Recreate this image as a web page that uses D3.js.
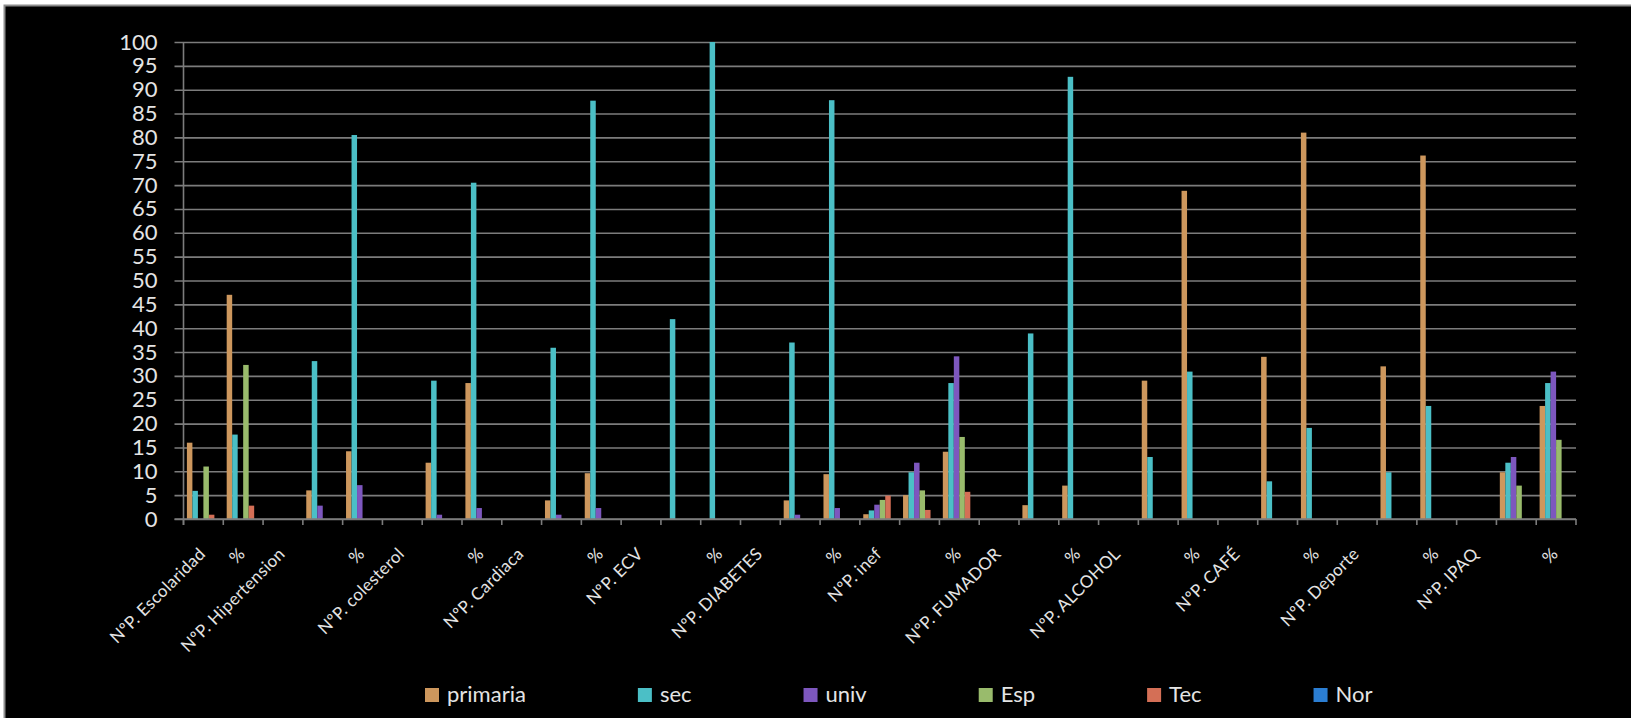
<!DOCTYPE html>
<html>
<head>
<meta charset="utf-8">
<script src="https://cdn.jsdelivr.net/npm/d3@7"></script>
<style>
  html, body { margin: 0; padding: 0; background: #ffffff; }
  svg { display: block; }
  text { font-family: Lato, "Open Sans", "DejaVu Sans", sans-serif; }
</style>
</head>
<body>
<svg id="chart" width="1631" height="718"></svg>
<script>
// ---- data ----
const categories = [
  "NºP. Escolaridad", "%", "NºP. Hipertension", "", "%",
  "NºP. colesterol", "", "%", "NºP. Cardiaca", "", "%",
  "NºP. ECV", "", "%", "NºP. DIABETES", "", "%",
  "NºP. inef", "", "%", "NºP. FUMADOR", "", "%",
  "NºP. ALCOHOL", "", "%", "NºP. CAFÉ", "", "%",
  "NºP. Deporte", "", "%", "NºP. IPAQ", "", "%"
];
const seriesNames = ["primaria", "sec", "univ", "Esp", "Tec", "Nor"];
const seriesColors = ["#cd975d", "#4bbfc6", "#7d57be", "#99bb6c", "#d46f56", "#2b7ed3"];

const primaria = [16, 47, 0, 6, 14.2, 0, 11.8, 28.5, 0, 3.9, 9.6, 0, 0, 0, 0, 3.9, 9.4, 1, 5, 14.1, 0, 2.9, 7, 0, 29, 68.8, 0, 34, 81, 0, 32, 76.2, 0, 9.8, 23.7];
const sec      = [5.9, 17.7, 0, 33.1, 80.5, 0, 29, 70.5, 0, 35.9, 87.7, 0, 41.9, 100, 0, 37, 87.8, 1.8, 9.8, 28.5, 0, 38.9, 92.7, 0, 13, 30.9, 0, 7.9, 19.1, 0, 9.8, 23.7, 0, 11.8, 28.5];
const univ     = [0, 0, 0, 2.8, 7.1, 0, 0.9, 2.3, 0, 0.9, 2.3, 0, 0, 0, 0, 0.9, 2.3, 3, 11.8, 34.1, 0, 0, 0, 0, 0, 0, 0, 0, 0, 0, 0, 0, 0, 13, 30.9];
const esp      = [11, 32.3, 0, 0, 0, 0, 0, 0, 0, 0, 0, 0, 0, 0, 0, 0, 0, 4, 6, 17.2, 0, 0, 0, 0, 0, 0, 0, 0, 0, 0, 0, 0, 0, 7, 16.6];
const tec      = [0.9, 2.8, 0, 0, 0, 0, 0, 0, 0, 0, 0, 0, 0, 0, 0, 0, 0, 4.9, 1.9, 5.7, 0, 0, 0, 0, 0, 0, 0, 0, 0, 0, 0, 0, 0, 0, 0];
const nor      = [0, 0, 0, 0, 0, 0, 0, 0, 0, 0, 0, 0, 0, 0, 0, 0, 0, 0, 0, 0, 0, 0, 0, 0, 0, 0, 0, 0, 0, 0, 0, 0, 0, 0, 0];
const yTicks = d3.range(0, 101, 5);

const seriesValues = [primaria, sec, univ, esp, tec, nor];

// ---- layout ----
const svg = d3.select("#chart");
const textColor = "#e4e4e4";
const gridColor = "#7c7c7c";

// chart frame
svg.append("rect")
  .attr("x", 4.5).attr("y", 5.5)
  .attr("width", 1700).attr("height", 800)
  .attr("fill", "#000000")
  .attr("stroke", "#8c8c8c").attr("stroke-width", 2);

const plotLeft = 183.5, plotRight = 1576, plotTop = 42, plotBottom = 519;

const x0 = d3.scaleBand()
  .domain(d3.range(categories.length))
  .range([plotLeft, plotRight])
  .padding(0);
const inset = 3.4;
const x1 = d3.scaleBand()
  .domain(seriesNames)
  .range([inset, x0.bandwidth() - inset])
  .padding(0);
const y = d3.scaleLinear().domain([0, 100]).range([plotBottom, plotTop]);

// gridlines + y labels
const yAxis = d3.axisLeft(y).tickValues(yTicks).tickSize(-(plotRight - plotLeft + 9)).tickPadding(17).tickFormat(d3.format("d"));
const gy = svg.append("g").attr("transform", `translate(${plotLeft - 9},0)`).call(yAxis);
gy.select(".domain").remove();
gy.selectAll(".tick line").attr("stroke", gridColor).attr("stroke-width", 1.6);
gy.selectAll(".tick text").attr("fill", textColor).attr("font-size", 22)
  .attr("font-family", "Lato, 'Open Sans', sans-serif");

// y axis line
svg.append("line")
  .attr("x1", plotLeft).attr("x2", plotLeft)
  .attr("y1", y(100)).attr("y2", y(0) + 6)
  .attr("stroke", gridColor).attr("stroke-width", 1.6);

// bars
const groups = svg.append("g").selectAll("g")
  .data(categories.map((c, i) => i))
  .join("g")
  .attr("transform", i => `translate(${x0(i)},0)`);

groups.selectAll("rect")
  .data(i => seriesNames.map((s, k) => ({ s, k, v: seriesValues[k][i] })))
  .join("rect")
  .attr("x", d => x1(d.s))
  .attr("width", x1.bandwidth())
  .attr("y", d => y(d.v))
  .attr("height", d => y(0) - y(d.v))
  .attr("fill", d => seriesColors[d.k]);

// x axis with boundary ticks
const gx = svg.append("g").attr("transform", `translate(0,${plotBottom})`);
gx.append("line")
  .attr("x1", plotLeft - 9).attr("x2", plotRight)
  .attr("stroke", gridColor).attr("stroke-width", 1.6);
const boundaries = d3.range(categories.length + 1).map(i => i < categories.length ? x0(i) : plotRight);
gx.selectAll("line.tk")
  .data(boundaries)
  .join("line").attr("class", "tk")
  .attr("x1", d => d).attr("x2", d => d)
  .attr("y1", 0).attr("y2", 6)
  .attr("stroke", gridColor).attr("stroke-width", 1.6);

// rotated category labels
svg.append("g").selectAll("text")
  .data(categories.map((c, i) => ({ c, i })))
  .join("text")
  .attr("transform", d => `translate(${x0(d.i) + x0.bandwidth() / 2 + 3},${plotBottom + 36}) rotate(-45)`)
  .attr("text-anchor", "end")
  .attr("fill", textColor)
  .attr("font-size", 17)
  .attr("letter-spacing", 0.3)
  .text(d => d.c);

// legend
const legend = svg.append("g").attr("transform", "translate(425,688)");
let lx = 0;
seriesNames.forEach((name, k) => {
  const g = legend.append("g").attr("transform", `translate(${lx},0)`);
  g.append("rect").attr("x", 0).attr("y", 0).attr("width", 14).attr("height", 14)
    .attr("fill", seriesColors[k]);
  const t = g.append("text").attr("x", 22).attr("y", 14)
    .attr("fill", textColor).attr("font-size", 22).text(name);
  lx += 22 + t.node().getComputedTextLength() + 112;
});
</script>
</body>
</html>
